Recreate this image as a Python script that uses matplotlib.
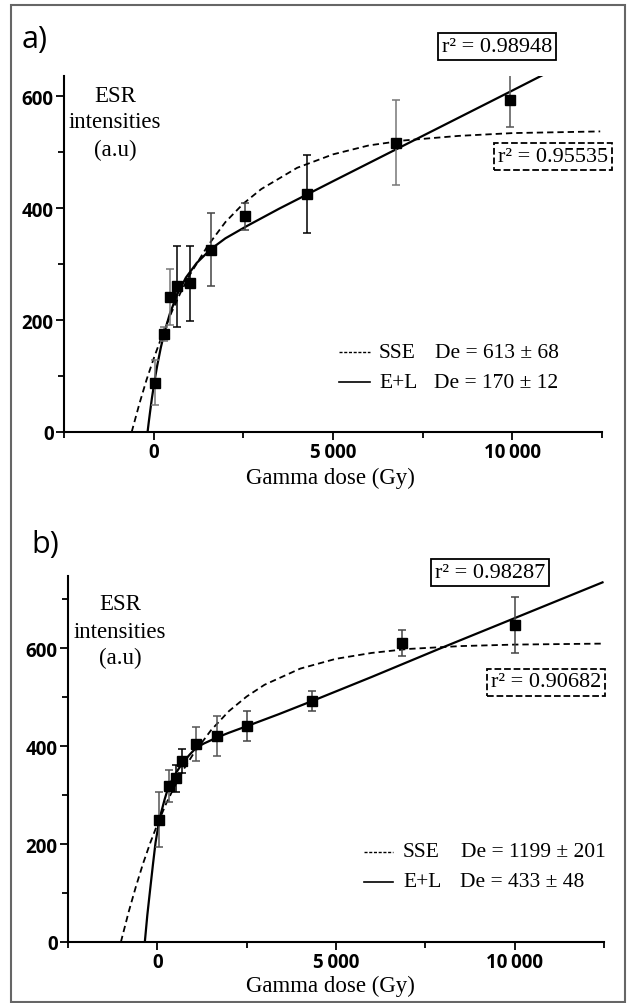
"""ESR dose-response curves (SSE and E+L fits), two panels"""

import matplotlib
matplotlib.use('Agg')

import matplotlib.pyplot as plt
from matplotlib.lines import Line2D
from matplotlib.patches import Rectangle
from matplotlib.ticker import MultipleLocator, FuncFormatter

# ---- data panel a ----
dose_a = [30, 287, 444, 657, 1009, 1602, 2537, 4278, 6769, 9944]
esr_a = [88, 175, 242, 260, 266, 326, 385, 425, 517, 593]
err_a = [40, 12, 50, 73, 67, 66, 24, 70, 76, 49]
ecol_a = ['#777777', '#777777', '#777777', 'black', 'black', '#444444', '#444444', 'black', '#777777', '#555555']

sse_x_a = [-613, -400, -200, 0, 250, 500, 750, 1000, 1500, 2000, 2500, 3000, 4000, 5000, 6000, 7000, 8500, 10000, 12450]
sse_y_a = [0, 50, 93, 131, 175, 214, 249, 280, 332, 375, 408, 434, 472, 496, 512, 521, 529, 534, 537]
el_x_a = [-170, -140, -100, -50, 0, 50, 100, 200, 300, 450, 650, 900, 1200, 1600, 2000, 2600, 3500, 5000, 7500, 10000, 12450]
el_y_a = [0, 16, 36, 60, 81, 101, 119, 151, 178, 211, 245, 276, 302, 327, 346, 368, 399, 448, 529, 610, 690]

# ---- data panel b ----
dose_b = [56, 316, 522, 690, 1081, 1657, 2523, 4339, 6852, 10020]
esr_b = [250, 319, 334, 369, 404, 421, 441, 492, 610, 647]
err_b = [56, 33, 27, 25, 34, 41, 30, 21, 27, 57]
ecol_b = ['#555555', '#555555', 'black', 'black', '#555555', '#555555', '#444444', '#444444', '#444444', '#444444']

sse_x_b = [-1020, -800, -600, -400, -200, 0, 250, 500, 750, 1000, 1500, 2000, 2500, 3000, 4000, 5000, 6000, 7000, 8500, 10000, 12450]
sse_y_b = [0, 62, 113, 160, 202, 240, 283, 320, 354, 383, 432, 471, 501, 525, 558, 578, 590, 598, 604, 607, 609]
el_x_b = [-350, -280, -200, -120, -50, 56, 200, 316, 522, 690, 900, 1081, 1300, 1657, 2000, 2523, 3400, 4339, 6000, 7877, 10000, 12458]
el_y_b = [0, 55, 108, 160, 203, 250, 290, 318, 345, 364, 382, 396, 405, 417, 427, 441, 465, 492, 541, 598, 661, 734]

W, H = 630, 1004
SERIF = ['Liberation Serif', 'DejaVu Serif']
SANS = ['Open Sans', 'DejaVu Sans']


def fx(x):
    return x / W


def fy(y):
    return 1 - y / H


def thin_fmt(v, pos):
    return f'{int(v):,}'.replace(',', '\u2009')


def draw_panel(ax, dose, esr, err, ecol, sx, sy, ex, ey, ymax):
    ax.plot(sx, sy, color='black', lw=1.3, ls=(0, (3.5, 2.2)))
    ax.plot(ex, ey, color='black', lw=1.6)
    for d, v, e, c in zip(dose, esr, err, ecol):
        ax.errorbar(d, v, yerr=e, fmt='none', ecolor=c, elinewidth=1.1,
                    capsize=3.2, capthick=1.1)
    ax.plot(dose, esr, 's', color='black', ms=7.5, zorder=5)

    ax.set_xlim(-2500, 12500)
    ax.set_ylim(0, ymax)
    for s in ['top', 'right']:
        ax.spines[s].set_visible(False)
    for s in ['left', 'bottom']:
        ax.spines[s].set_linewidth(1.5)

    ax.xaxis.set_major_locator(MultipleLocator(5000))
    ax.xaxis.set_minor_locator(MultipleLocator(2500))
    ax.yaxis.set_major_locator(MultipleLocator(200))
    ax.yaxis.set_minor_locator(MultipleLocator(100))
    ax.xaxis.set_major_formatter(FuncFormatter(thin_fmt))
    ax.tick_params(which='major', length=6, width=1.3, pad=1.5)
    ax.tick_params(which='minor', length=4, width=1.3)
    for lab in ax.get_xticklabels() + ax.get_yticklabels():
        lab.set_family(SANS)
        lab.set_fontweight('bold')
        lab.set_fontsize(13.5)


fig = plt.figure(figsize=(6.3, 10.04), dpi=100)

ax_a = fig.add_axes([fx(64), fy(433), fx(602) - fx(64), (433 - 77) / H])
draw_panel(ax_a, dose_a, esr_a, err_a, ecol_a, sse_x_a, sse_y_a, el_x_a, el_y_a, 636)

ax_b = fig.add_axes([fx(68), fy(943), fx(604) - fx(68), (943 - 577) / H])
draw_panel(ax_b, dose_b, esr_b, err_b, ecol_b, sse_x_b, sse_y_b, el_x_b, el_y_b, 747)

# outer frame
fig.add_artist(Rectangle((fx(11), fy(1003)), fx(625) - fx(11), (1003 - 6) / H,
                         transform=fig.transFigure, fill=False,
                         edgecolor='#666666', lw=1.5))

# panel letters
fig.text(fx(22), fy(40), 'a)', fontsize=22, family=SANS, va='center', ha='left')
fig.text(fx(31), fy(545), 'b)', fontsize=22, family=SANS, va='center', ha='left')

# y labels
for (cx, ys) in [(115, (97, 123, 150)), (120, (605, 632, 658))]:
    for t, yy in zip(['ESR', 'intensities', '(a.u)'], ys):
        fig.text(fx(cx), fy(yy), t, fontsize=16.5, family=SERIF, ha='center', va='center')

# x labels
for yy in (478, 986):
    fig.text(fx(330), fy(yy), 'Gamma dose (Gy)', fontsize=16.5, family=SERIF,
             ha='center', va='center')

# r^2 boxes
def r2_box(x, y, text, dashed):
    fig.text(fx(x), fy(y), text, fontsize=16, family=SERIF, ha='center', va='center',
             bbox=dict(boxstyle='square,pad=0.18', fc='white', ec='black', lw=1.3,
                       ls='--' if dashed else '-'))

r2_box(497, 47, 'r\u00b2 = 0.98948', False)
r2_box(553, 157, 'r\u00b2 = 0.95535', True)
r2_box(490, 573, 'r\u00b2 = 0.98287', False)
r2_box(546, 683, 'r\u00b2 = 0.90682', True)

# legends
def legend_rows(x0, x1, xname, xde, y1, y2, de1, de2):
    fig.add_artist(Line2D([fx(x0), fx(x1)], [fy(y1), fy(y1)], transform=fig.transFigure,
                          color='black', lw=1.0, ls=(0, (2.2, 1.2))))
    fig.add_artist(Line2D([fx(x0), fx(x1)], [fy(y2), fy(y2)], transform=fig.transFigure,
                          color='black', lw=1.2))
    fig.text(fx(xname), fy(y1), 'SSE', fontsize=15.5, family=SERIF, va='center')
    fig.text(fx(xname), fy(y2), 'E+L', fontsize=15.5, family=SERIF, va='center')
    fig.text(fx(xde), fy(y1), de1, fontsize=15.5, family=SERIF, va='center')
    fig.text(fx(xde - 1), fy(y2), de2, fontsize=15.5, family=SERIF, va='center')

legend_rows(339, 370, 379, 435, 353, 383, 'De = 613 \u00b1 68', 'De = 170 \u00b1 12')
legend_rows(364, 393, 403, 461, 853, 883, 'De = 1199 \u00b1 201', 'De = 433 \u00b1 48')

fig.savefig('out.png', dpi=100, facecolor='white')
plt.close(fig)
